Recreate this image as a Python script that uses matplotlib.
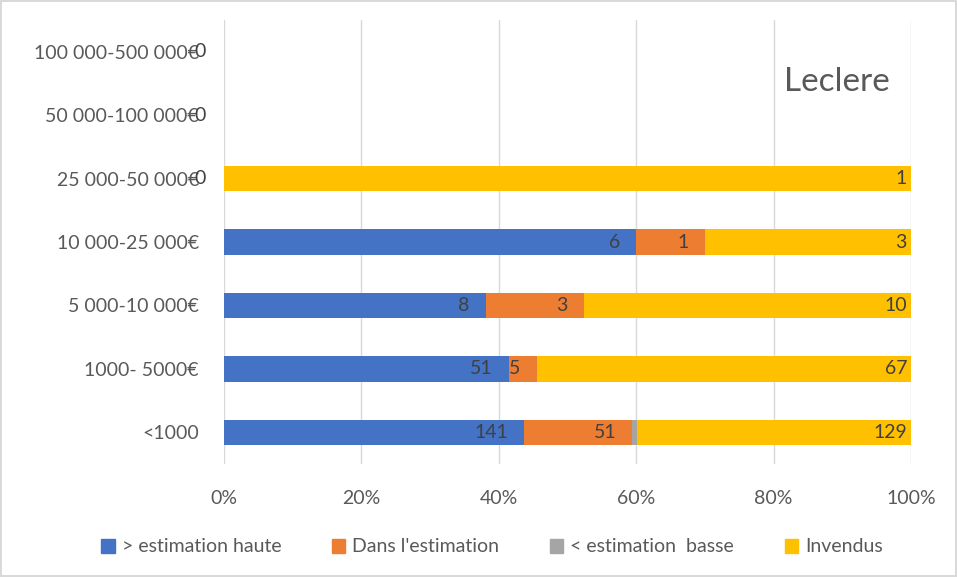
import numpy as np
import matplotlib.pyplot as plt
from matplotlib.patches import Patch

plt.rcParams['font.family'] = ['Lato', 'DejaVu Sans']

# price bands, bottom to top
categories = ['<1000', '1000- 5000€', '5 000-10 000€', '10 000-25 000€',
              '25 000-50 000€', '50 000-100 000€', '100 000-500 000€']
series = ['> estimation haute', "Dans l'estimation", '< estimation  basse', 'Invendus']
above = [141, 51, 8, 6, 0, 0, 0]
within = [51, 5, 3, 1, 0, 0, 0]
below = [2, 0, 0, 0, 0, 0, 0]
unsold = [129, 67, 10, 3, 1, 0, 0]
colors = ['#4472c4', '#ed7d31', '#a5a5a5', '#ffc000']
text_col = '#595959'

counts = np.array([above, within, below, unsold], dtype=float)
totals = counts.sum(axis=0)
shares = np.divide(counts, totals, out=np.zeros_like(counts), where=totals > 0)

fig = plt.figure(figsize=(9.57, 5.77), dpi=100)
fig.patch.set_edgecolor('#d9d9d9')
fig.patch.set_linewidth(1.5)
ax = fig.add_axes([224 / 957, 1 - 464 / 577, 687 / 957, 444 / 577])

y = np.arange(len(categories))
left = np.zeros(len(categories))
for k in range(4):
    ax.barh(y, shares[k], left=left, height=0.4, color=colors[k], zorder=3)
    for i in range(len(categories)):
        # the grey series carries no labels in the original
        if counts[k, i] > 0 and k != 2:
            pad = -4 if k == 3 else -16
            ax.annotate(f'{int(counts[k, i])}', (left[i] + shares[k, i], y[i]),
                        xytext=(pad, 0), textcoords='offset pixels',
                        ha='right', va='center', fontsize=14, color='#404040', zorder=4)
    left += shares[k]

# zero labels for rows without a first segment
for i in range(len(categories)):
    if counts[0, i] == 0:
        ax.annotate('0', (0, y[i]), xytext=(-18, 0), textcoords='offset pixels',
                    ha='right', va='center', fontsize=14, color='#404040',
                    annotation_clip=False)

ax.set_xlim(0, 1)
ax.set_ylim(-0.5, len(categories) - 0.5)
ax.set_xticks(np.linspace(0, 1, 6))
ax.set_xticklabels([f'{p}%' for p in range(0, 101, 20)])
ax.set_yticks(y)
ax.set_yticklabels(categories)
ax.grid(axis='x', color='#d9d9d9', linewidth=1, zorder=0)
for s in ax.spines.values():
    s.set_visible(False)
ax.tick_params(length=0, labelsize=14, colors=text_col)
ax.tick_params(axis='x', pad=19)
ax.tick_params(axis='y', pad=18)

ax.text(0.969, 0.86, 'Leclere', transform=ax.transAxes, fontsize=24,
        color=text_col, ha='right', va='center')

handles = [Patch(color=c) for c in colors]
fig.legend(handles, series, loc='center', bbox_to_anchor=(492 / 957, 1 - 547 / 577),
           ncol=4, frameon=False, handlelength=0.7, handleheight=0.7,
           handletextpad=0.35, columnspacing=2.6, fontsize=14, labelcolor=text_col)

fig.savefig('out.png', dpi=100)
